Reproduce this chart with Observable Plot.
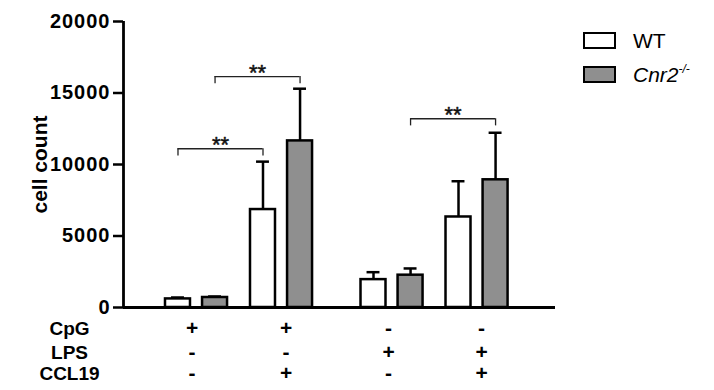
<!DOCTYPE html>
<html><head><meta charset="utf-8">
<script src="https://cdn.jsdelivr.net/npm/d3@7"></script>
<script src="https://cdn.jsdelivr.net/npm/@observablehq/plot@0.6"></script>
<style>
body{margin:0;background:#fff;font-family:"Liberation Sans",Arial,sans-serif;color:#000;}
#wrap{position:relative;width:714px;height:390px;}
#wrap svg g[aria-label="y-axis tick label"] text{letter-spacing:1px;}
.leg{position:absolute;left:583px;display:flex;align-items:center;font-size:21px;line-height:1;}
.sw{width:29px;height:13px;border:2.5px solid #000;margin-right:17px;box-sizing:content-box;}
sup{font-size:12px;vertical-align:9px;}
</style></head><body><div id="wrap"></div>
<script>
// ---- data ----
const groups = ["CpG", "CpG+CCL19", "LPS", "LPS+CCL19"];
const genotypes = ["WT", "Cnr2-/-"];
const wtMean = [600, 6850, 1950, 6330];
const wtSD = [100, 3350, 520, 2500];
const koMean = [700, 11650, 2260, 8930];
const koSD = [70, 3650, 470, 3290];
const rowNames = ["CpG", "LPS", "CCL19"];
const cpgRow = ["+", "+", "-", "-"];
const lpsRow = ["-", "-", "+", "+"];
const ccl19Row = ["-", "+", "-", "+"];
const yTicks = [0, 5000, 10000, 15000, 20000];
const sigGroupA = [0, 0, 2];
const sigGroupB = [1, 1, 3];
const sigGeno = [0, 1, 1];
const sigLevel = [11100, 16150, 13200];
const sigLabel = ["**", "**", "**"];

// ---- layout ----
const groupX = [1, 2, 3.3, 4.3];
const labelX = [0.947, 2.053, 3.259, 4.353];
const xDomain = [0.141, 5.223];
const off = 0.218, half = 0.147, cap = 0.076, legDrop = 500;
const rows = [cpgRow, lpsRow, ccl19Row];
const rowDy = [21, 45, 66];

const bars = [];
groups.forEach((g, i) => {
  [[wtMean, wtSD], [koMean, koSD]].forEach(([m, s], k) => {
    const xc = groupX[i] + (k ? off : -off);
    bars.push({group: g, geno: genotypes[k], xc, x1: xc - half, x2: xc + half, y: m[i], top: m[i] + s[i]});
  });
});
const sig = sigLevel.map((lv, j) => {
  const k = sigGeno[j];
  const xa = groupX[sigGroupA[j]] + (k ? off : -off);
  const xb = groupX[sigGroupB[j]] + (k ? off : -off);
  return {xa, xb, mid: (xa + xb) / 2, y: lv, y0: lv - legDrop, label: sigLabel[j]};
});
const table = [];
rows.forEach((r, ri) => r.forEach((t, i) => table.push({x: labelX[i], t, row: ri})));

const font = {fontWeight: "bold", fontSize: 20};
const marks = [
  Plot.rect(bars, {x1: "x1", x2: "x2", y1: 0, y2: "y", fill: "geno", stroke: "black", strokeWidth: 2.5}),
  Plot.ruleX(bars, {x: "xc", y1: "y", y2: "top", stroke: "black", strokeWidth: 2.5}),
  Plot.ruleY(bars, {y: "top", x1: d => d.xc - cap, x2: d => d.xc + cap, stroke: "black", strokeWidth: 2.5}),
  Plot.ruleY(sig, {y: "y", x1: "xa", x2: "xb", stroke: "#222", strokeWidth: 1.3}),
  Plot.ruleX(sig, {x: "xa", y1: "y0", y2: "y", stroke: "#222", strokeWidth: 1.3}),
  Plot.ruleX(sig, {x: "xb", y1: "y0", y2: "y", stroke: "#222", strokeWidth: 1.3}),
  Plot.text(sig, {x: "mid", y: "y", text: "label", dy: -3.5, fontSize: 22, fill: "#111", stroke: "#111", strokeWidth: 0.5}),
  Plot.axisY({ticks: yTicks, tickFormat: d => String(d), tickSize: 10, tickPadding: 3, strokeWidth: 2.5, label: null, ...font, fill: "black", stroke: "black"}),
  Plot.ruleX([xDomain[0]], {stroke: "black", strokeWidth: 2.8}),
  Plot.ruleY([0], {stroke: "black", strokeWidth: 2.8}),
  Plot.text(["cell count"], {frameAnchor: "left", dx: -83, rotate: -90, textAnchor: "middle", lineAnchor: "middle", fontSize: 21, fontWeight: "bold", fill: "black"}),
  ...rows.map((r, ri) => Plot.text(table.filter(d => d.row === ri), {x: "x", text: "t", frameAnchor: "bottom", lineAnchor: "middle", dy: rowDy[ri], ...font, fontSize: 21, fill: "black"})),
  ...rowNames.map((n, ri) => Plot.text([n], {frameAnchor: "bottom-left", textAnchor: "middle", lineAnchor: "middle", dx: -54, dy: rowDy[ri], ...font, fontSize: 19, fill: "black"}))
];

const chart = Plot.plot({
  width: 714, height: 390,
  marginLeft: 123, marginRight: 159, marginTop: 21, marginBottom: 83,
  style: {fontFamily: "'Liberation Sans', Arial, sans-serif", color: "black", background: "white", overflow: "visible"},
  x: {type: "linear", domain: xDomain, axis: null},
  y: {domain: [0, 20000], axis: null},
  color: {type: "ordinal", domain: genotypes, range: ["white", "#8f8f8f"]},
  marks
});
const wrap = document.getElementById("wrap");
wrap.appendChild(chart);
const leg = [["WT", "white", 40], ["Cnr2", "#8f8f8f", 74]];
leg.forEach(([t, c, cy], k) => {
  const d = document.createElement("div");
  d.className = "leg";
  d.style.top = (cy - 10) + "px";
  d.style.height = "20px";
  const sw = document.createElement("div");
  sw.className = "sw"; sw.style.background = c;
  d.appendChild(sw);
  const s = document.createElement("span");
  if (k === 0) s.textContent = t;
  else s.innerHTML = "<i>Cnr2</i><sup><i>-/-</i></sup>";
  d.appendChild(s);
  wrap.appendChild(d);
});
</script></body></html>
